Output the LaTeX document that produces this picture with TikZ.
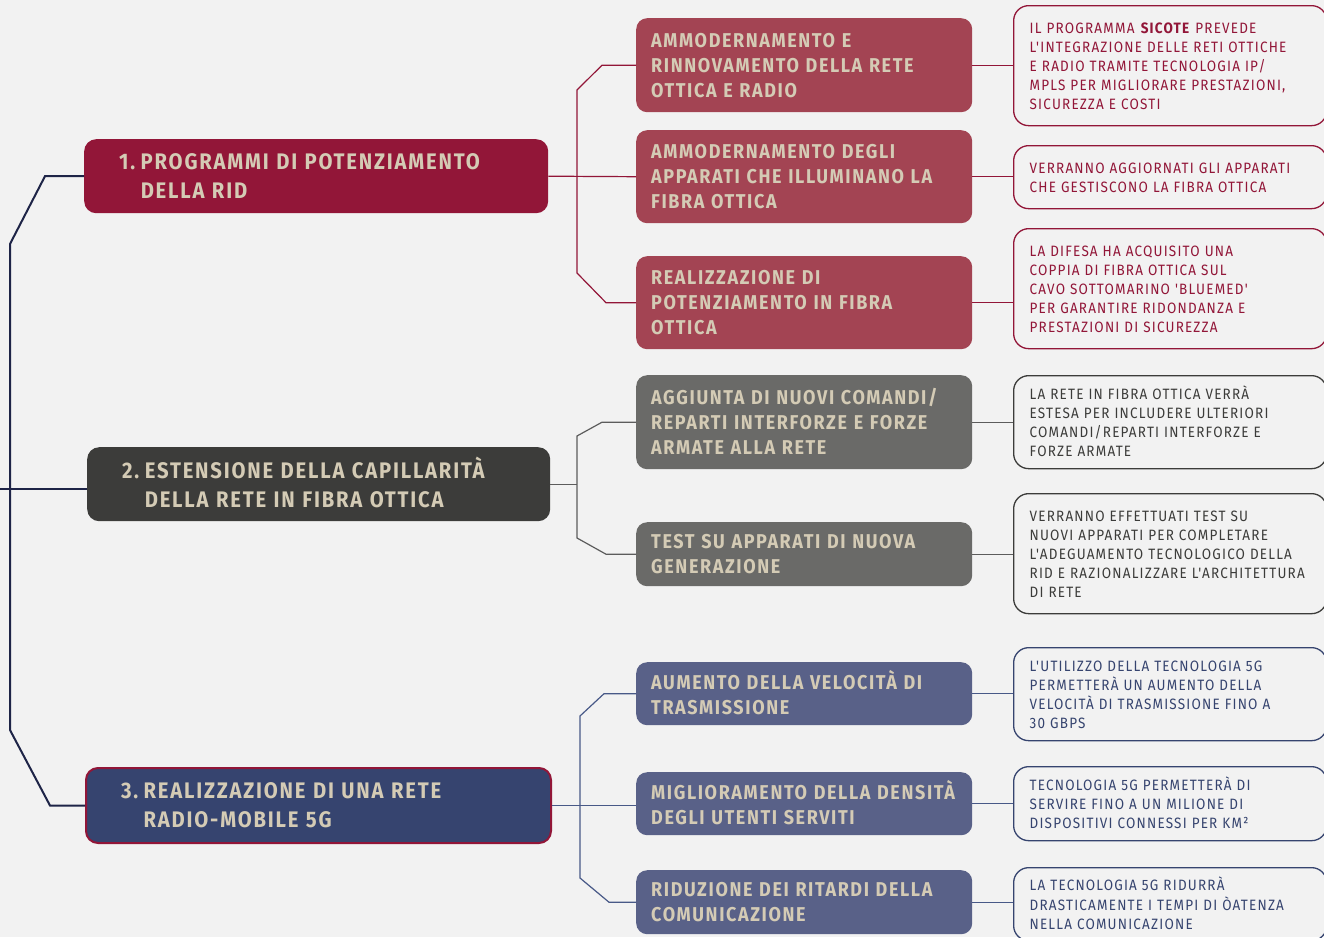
\documentclass[tikz,border=0pt]{standalone}
\usepackage{fontspec}
\newfontfamily\hfont[FakeStretch=0.9,LetterSpace=8]{Fira Sans}
\newfontfamily\nfont[FakeStretch=0.9,LetterSpace=8]{Fira Sans}
\definecolor{bg}{HTML}{F2F2F2}
\definecolor{crim}{HTML}{921638}
\definecolor{crimL}{HTML}{A34453}
\definecolor{dgrey}{HTML}{3C3C3A}
\definecolor{mgrey}{HTML}{6A6A68}
\definecolor{navy}{HTML}{36446F}
\definecolor{slate}{HTML}{596188}
\definecolor{beige}{HTML}{D4CBB5}
\definecolor{spine}{HTML}{1E2447}
\definecolor{conG}{HTML}{5C5C5C}
\definecolor{conB}{HTML}{485987}
\newcommand\ml[1]{\raisebox{-2pt}[\height][\depth]{\begin{tabular}{@{}l@{}}#1\end{tabular}}}
\newcommand\numgap{\hspace{-2pt}\ }
\begin{document}
\begin{tikzpicture}[x=1pt,y=-1pt,
  mainbox/.style={rectangle, rounded corners=12pt, anchor=north west, inner xsep=35pt, inner ysep=0pt, text=beige, font=\hfont\bfseries\fontsize{22.5}{29}\selectfont},
  childbox/.style={rectangle, rounded corners=11pt, anchor=north west, inner xsep=15pt, inner ysep=0pt, text width=306pt, text=beige, font=\hfont\bfseries\fontsize{20}{25}\selectfont},
  notebox/.style={rectangle, rounded corners=15pt, anchor=north west, draw, line width=1.3pt, inner xsep=16pt, inner ysep=0pt, text width=281pt, font=\nfont\fontsize{15}{19}\selectfont},
  spineline/.style={draw=spine, line width=2pt},
  con/.style={line width=1.2pt}
]
\useasboundingbox (0,0) rectangle (1324,937);
\fill[bg] (0,0) rectangle (1324,937);
\clip (0,0) rectangle (1324,937);

% main nodes
\node[mainbox, fill=crim, minimum width=464pt, minimum height=74pt, text width=394pt] (m1) at (84,139)
  {\ml{1.\numgap PROGRAMMI DI POTENZIAMENTO\\\phantom{1.\numgap}DELLA RID}};
\node[mainbox, fill=dgrey, minimum width=463pt, minimum height=74pt, text width=393pt] (m2) at (87,447)
  {\ml{2.\numgap ESTENSIONE DELLA CAPILLARITÀ\\\phantom{2.\numgap}DELLA RETE IN FIBRA OTTICA}};
\node[mainbox, fill=navy, draw=crim, line width=2pt, minimum width=465pt, minimum height=75pt, text width=395pt] (m3) at (85,767)
  {\ml{3.\numgap REALIZZAZIONE DI UNA RETE\\\phantom{3.\numgap}RADIO-MOBILE 5G}};

% children
\node[childbox, fill=crimL, minimum height=94pt] (c1) at (636,18)
  {\ml{AMMODERNAMENTO E\\RINNOVAMENTO DELLA RETE\\OTTICA E RADIO}};
\node[childbox, fill=crimL, minimum height=93pt] (c2) at (636,130)
  {\ml{AMMODERNAMENTO DEGLI\\APPARATI CHE ILLUMINANO LA\\FIBRA OTTICA}};
\node[childbox, fill=crimL, minimum height=93pt] (c3) at (636,256)
  {\ml{REALIZZAZIONE DI\\POTENZIAMENTO IN FIBRA\\OTTICA}};
\node[childbox, fill=mgrey, minimum height=94pt] (c4) at (636,375)
  {\ml{AGGIUNTA DI NUOVI COMANDI/\\REPARTI INTERFORZE E FORZE\\ARMATE ALLA RETE}};
\node[childbox, fill=mgrey, minimum height=64pt] (c5) at (636,522)
  {\ml{TEST SU APPARATI DI NUOVA\\GENERAZIONE}};
\node[childbox, fill=slate, minimum height=63pt] (c6) at (636,662)
  {\ml{AUMENTO DELLA VELOCITÀ DI\\TRASMISSIONE}};
\node[childbox, fill=slate, minimum height=63pt] (c7) at (636,772)
  {\ml{MIGLIORAMENTO DELLA DENSITÀ\\DEGLI UTENTI SERVITI}};
\node[childbox, fill=slate, minimum height=64pt] (c8) at (636,870)
  {\ml{RIDUZIONE DEI RITARDI DELLA\\COMUNICAZIONE}};

% notes
\node[notebox, draw=crim, text=crim, minimum height=120pt] (n1) at (1013,5)
  {\ml{IL PROGRAMMA \textbf{SICOTE} PREVEDE\\L'INTEGRAZIONE DELLE RETI OTTICHE\\E RADIO TRAMITE TECNOLOGIA IP/\\MPLS PER MIGLIORARE PRESTAZIONI,\\SICUREZZA E COSTI}};
\node[notebox, draw=crim, text=crim, minimum height=63pt] (n2) at (1013,145)
  {\ml{VERRANNO AGGIORNATI GLI APPARATI\\CHE GESTISCONO LA FIBRA OTTICA}};
\node[notebox, draw=crim, text=crim, minimum height=120pt] (n3) at (1013,228)
  {\ml{LA DIFESA HA ACQUISITO UNA\\COPPIA DI FIBRA OTTICA SUL\\CAVO SOTTOMARINO 'BLUEMED'\\PER GARANTIRE RIDONDANZA E\\PRESTAZIONI DI SICUREZZA}};
\node[notebox, draw=dgrey, text=dgrey, minimum height=93pt] (n4) at (1013,375)
  {\ml{LA RETE IN FIBRA OTTICA VERRÀ\\ESTESA PER INCLUDERE ULTERIORI\\COMANDI/REPARTI INTERFORZE E\\FORZE ARMATE}};
\node[notebox, draw=dgrey, text=dgrey, minimum height=120pt] (n5) at (1013,493)
  {\ml{VERRANNO EFFETTUATI TEST SU\\NUOVI APPARATI PER COMPLETARE\\L'ADEGUAMENTO TECNOLOGICO DELLA\\RID E RAZIONALIZZARE L'ARCHITETTURA\\DI RETE}};
\node[notebox, draw=navy, text=navy, minimum height=93pt] (n6) at (1013,647)
  {\ml{L'UTILIZZO DELLA TECNOLOGIA 5G\\PERMETTERÀ UN AUMENTO DELLA\\VELOCITÀ DI TRASMISSIONE FINO A\\30 GBPS}};
\node[notebox, draw=navy, text=navy, minimum height=74pt] (n7) at (1013,766)
  {\ml{TECNOLOGIA 5G PERMETTERÀ DI\\SERVIRE FINO A UN MILIONE DI\\DISPOSITIVI CONNESSI PER KM²}};
\node[notebox, draw=navy, text=navy, minimum height=73pt] (n8) at (1013,867)
  {\ml{LA TECNOLOGIA 5G RIDURRÀ\\DRASTICAMENTE I TEMPI DI ÒATENZA\\NELLA COMUNICAZIONE}};

% spine
\coordinate (e2) at (0,489);
\draw[spineline] (m1.west) -- ++(-39,0) -- (10,244) -- (10,730) -- ([xshift=-35pt]m3.west) -- (m3.west);
\draw[spineline] (e2) -- (e2 -| m2.west);

% group 1
\draw[con, draw=crim] (m1.east) -- (c2.west);
\draw[con, draw=crim] (c1.west) -- ++(-34,0) -- (577,90) -- (577,273) -- ([xshift=-30pt]c3.west) -- (c3.west);
\draw[con, draw=crim] (c1.east) -- (c1.east -| n1.west);
\draw[con, draw=crim] (c2.east) -- (c2.east -| n2.west);
\draw[con, draw=crim] (c3.east) -- (c3.east -| n3.west);

% group 2
\draw[con, draw=conG] (m2.east) -- ++(27,0);
\draw[con, draw=conG] (c4.west) -- ++(-34,0) -- (577,436) -- (577,538) -- ([xshift=-30pt]c5.west) -- (c5.west);
\draw[con, draw=conG] (c4.east) -- (c4.east -| n4.west);
\draw[con, draw=conG] (c5.east) -- (c5.east -| n5.west);

% group 3
\draw[con, draw=conB] (m3.east) -- (m3.east -| c7.west);
\draw[con, draw=conB] (c6.west) -- ++(-32,0) -- (580,716) -- (580,878) -- ([xshift=-27pt]c8.west) -- (c8.west);
\draw[con, draw=conB] (c6.east) -- (c6.east -| n6.west);
\draw[con, draw=conB] (c7.east) -- (c7.east -| n7.west);
\draw[con, draw=conB] (c8.east) -- (c8.east -| n8.west);
\end{tikzpicture}
\end{document}
